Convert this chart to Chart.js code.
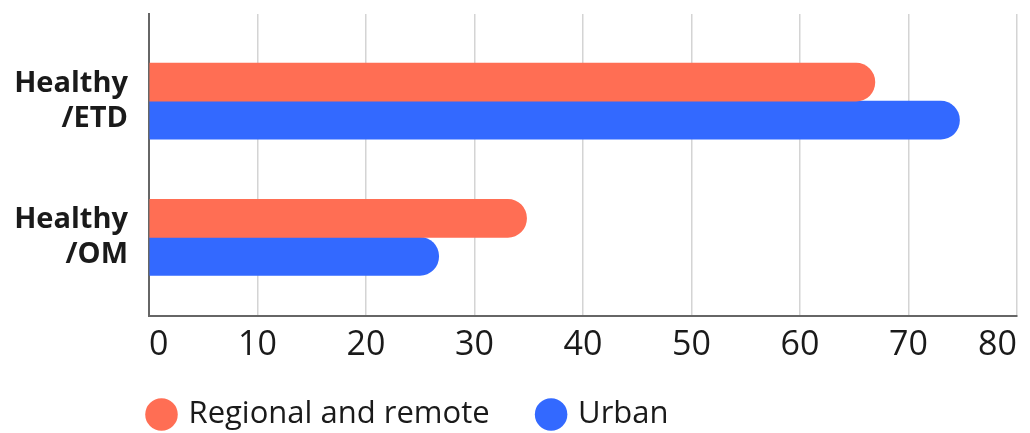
<!DOCTYPE html>
<html>
<head>
<meta charset="utf-8">
<script src="https://cdn.jsdelivr.net/npm/chart.js@4"></script>
<style>
  html, body { margin: 0; padding: 0; background: #fff; }
  #wrap { width: 1030px; height: 433px; }
</style>
</head>
<body>
<div id="wrap"><canvas id="chart"></canvas></div>
<script>
// Chart data
const categories = [['Healthy', '/ETD'], ['Healthy', '/OM']];
const seriesNames = ['Regional and remote', 'Urban'];
const regionalValues = [66.9, 34.8];
const urbanValues = [74.7, 26.7];
const xTicks = [0, 10, 20, 30, 40, 50, 60, 70, 80];

// Colours
const RED = '#FF6E54';
const BLUE = '#3369FF';
const TEXT = '#1a1a1a';
const FONT = "'Open Sans', sans-serif";

// Move the legend row so it starts under the plot area and sits a bit higher
const legendShift = {
  id: 'legendShift',
  afterLayout(chart) {
    const lg = chart.legend;
    lg.left = 100;
    lg.right = 1030 + 100;
    lg.top -= 17;
    lg.bottom = chart.height;
  }
};

const ctx = document.getElementById('chart').getContext('2d');
const chart = new Chart(ctx, {
  type: 'bar',
  data: {
    datasets: [
      {
        label: seriesNames[0],
        data: regionalValues.map((v, i) => ({ x: v, y: i })),
        backgroundColor: RED,
        borderRadius: 19,
        borderSkipped: 'start',
        barThickness: 38
      },
      {
        label: seriesNames[1],
        data: urbanValues.map((v, i) => ({ x: v, y: i })),
        backgroundColor: BLUE,
        borderRadius: 19,
        borderSkipped: 'start',
        barThickness: 38
      }
    ]
  },
  options: {
    indexAxis: 'y',
    responsive: true,
    maintainAspectRatio: false,
    animation: false,
    layout: {
      padding: { top: 14, right: 13, bottom: 0, left: 0 }
    },
    plugins: {
      tooltip: { enabled: false },
      legend: {
        position: 'bottom',
        align: 'start',
        maxHeight: 67,
        labels: {
          usePointStyle: true,
          pointStyle: 'circle',
          boxWidth: 23,
          boxHeight: 23,
          padding: 50,
          color: TEXT,
          font: { family: FONT, size: 31 }
        }
      }
    },
    scales: {
      x: {
        type: 'linear',
        min: xTicks[0],
        max: xTicks[xTicks.length - 1],
        afterBuildTicks: (scale) => {
          scale.ticks = xTicks.map(v => ({ value: v }));
        },
        afterFit: (scale) => { scale.height = 50; },
        grid: {
          color: '#d4d4d4',
          lineWidth: 1.5,
          drawTicks: false
        },
        border: { display: true, color: '#666', width: 2 },
        ticks: {
          align: 'inner',
          padding: 9,
          color: TEXT,
          font: { family: FONT, size: 34 }
        }
      },
      y: {
        type: 'linear',
        reverse: true,
        offset: false,
        min: -0.64,
        max: 1.578,
        afterBuildTicks: (scale) => {
          scale.ticks = categories.map((c, i) => ({ value: i }));
        },
        afterFit: (scale) => {
          scale.width = 149;
          scale.paddingTop = 0;
          scale.paddingBottom = 0;
        },
        grid: { display: false, drawTicks: false },
        border: { display: true, color: '#666', width: 2 },
        ticks: {
          padding: 21,
          color: TEXT,
          font: { family: FONT, size: 29, weight: 'bold', lineHeight: 1.2 },
          callback: (value) => categories[value]
        }
      }
    }
  },
  plugins: [legendShift]
});
</script>
</body>
</html>
